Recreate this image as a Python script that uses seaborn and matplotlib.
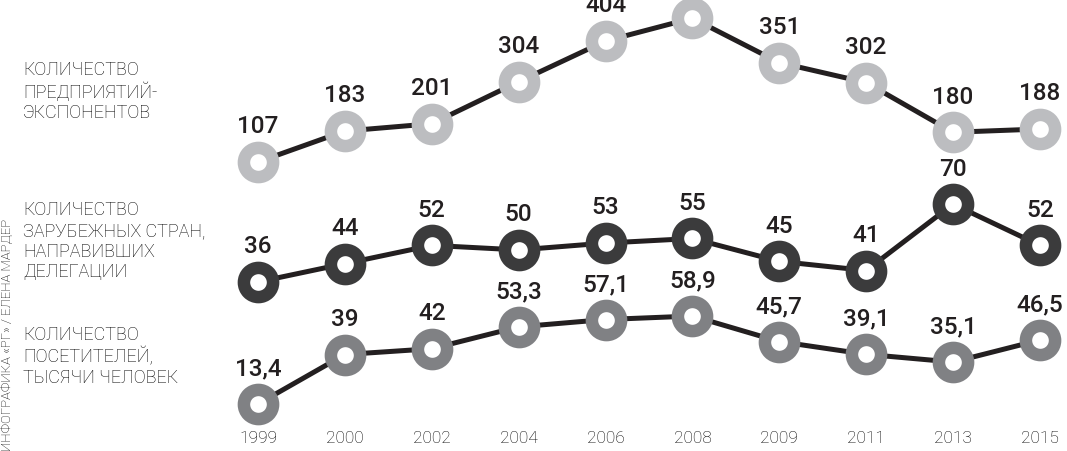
import matplotlib
matplotlib.use("Agg")
import matplotlib.pyplot as plt
import seaborn as sns
import pandas as pd

years = ["1999", "2000", "2002", "2004", "2006", "2008", "2009", "2011", "2013", "2015"]
exhibitors = [107, 183, 201, 304, 404, 460, 351, 302, 180, 188]
countries = [36, 44, 52, 50, 53, 55, 45, 41, 70, 52]
visitors = [13.4, 39, 42, 53.3, 57.1, 58.9, 45.7, 39.1, 35.1, 46.5]

series_names = [
    "КОЛИЧЕСТВО\nПРЕДПРИЯТИЙ-\nЭКСПОНЕНТОВ",
    "КОЛИЧЕСТВО\nЗАРУБЕЖНЫХ СТРАН,\nНАПРАВИВШИХ\nДЕЛЕГАЦИИ",
    "КОЛИЧЕСТВО\nПОСЕТИТЕЛЕЙ,\nТЫСЯЧИ ЧЕЛОВЕК",
]
credit = "ИНФОГРАФИКА «РГ» / ЕЛЕНА МАРДЕР"

sns.set_theme(style="white")
plt.rcParams["font.family"] = ["Roboto", "DejaVu Sans"]

W, H = 1067, 451
fig = plt.figure(figsize=(W / 100, H / 100), dpi=100)
fig.patch.set_facecolor("white")

line_col = "#231f20"
ring_cols = ["#bcbdc0", "#3b3b3c", "#808184"]

specs = [
    (exhibitors, (0, 500), 1.9, 205.6),
    (countries, (30, 75), 192.7, 295.7),
    (visitors, (10, 60), 313.9, 410.6),
]
label_tops = [61, 201, 326]

left_px, right_px = 223.2, 1066.0
for i, (vals, ylim, tpx, bpx) in enumerate(specs):
    ax = fig.add_axes([left_px / W, (H - bpx) / H, (right_px - left_px) / W, (bpx - tpx) / H])
    ax.patch.set_alpha(0)
    df = pd.DataFrame({"x": range(len(years)), "y": vals})
    sns.lineplot(data=df, x="x", y="y", ax=ax, color=line_col, linewidth=3.6,
                 marker="o", markersize=21, markeredgewidth=9,
                 markerfacecolor="white", markeredgecolor=ring_cols[i], clip_on=False)
    for x, v in zip(df["x"], vals):
        txt = (f"{v:g}").replace(".", ",")
        ax.annotate(txt, (x, v), xytext=(0, 17), textcoords="offset points",
                    ha="center", va="bottom", fontsize=17.5, fontweight="medium",
                    color="#231f20", annotation_clip=False)
    ax.set_xlim(-0.4, 9.3)
    ax.set_ylim(*ylim)
    ax.set_xlabel("")
    ax.set_ylabel("")
    ax.set_yticks([])
    for s in ax.spines.values():
        s.set_visible(False)
    if i < 2:
        ax.set_xticks([])
    else:
        ax.set_xticks(range(len(years)))
        ax.set_xticklabels(years, fontsize=12.5, fontweight="light", color="#000000")
        ax.tick_params(axis="x", length=0, pad=15)
    fig.text(23 / W, 1 - label_tops[i] / H, series_names[i], ha="left", va="top",
             fontsize=13, fontweight="light", color="#000000", linespacing=1.2)

fig.text(8 / W, 1 - 451 / H, credit, rotation=90, ha="center", va="bottom",
         fontsize=9.5, fontweight="light", color="#000000")

fig.savefig("out.png", dpi=100, facecolor="white")
